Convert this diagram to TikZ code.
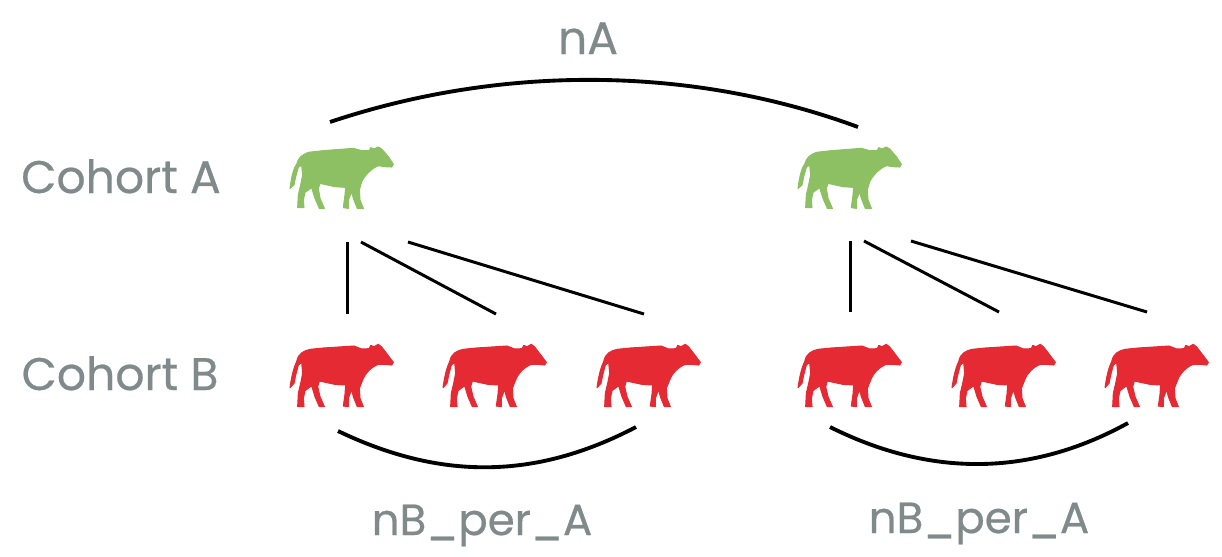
\documentclass[tikz,border=0pt]{standalone}
\usepackage{fontspec}
\setmainfont[FakeBold=0.5]{Poppins}
\definecolor{cowgreen}{HTML}{8CC063}
\definecolor{cowred}{HTML}{E62A33}
\definecolor{labelgray}{HTML}{808A8A}
\tikzset{
  x=0.02cm,y=-0.02cm,
  lbl/.style={text=labelgray,font=\fontsize{26}{30}\selectfont,inner sep=0pt,anchor=base},
  lblsmall/.style={lbl,font=\fontsize{24.8}{30}\selectfont},
  thick link/.style={draw=black,line width=2.2pt,line cap=butt},
  thinlink/.style={draw=black,line width=1.7pt},
  greencow/.pic={\filldraw[fill=cowgreen,draw=cowgreen,line width=0.6pt,line join=round,x=0.00667cm,y=-0.00667cm]
    (30,160) .. controls (34,130) and (40,100) .. (50,88)
    .. controls (55,68) and (65,60) .. (85,52)
    -- (130,47) -- (220,40) -- (245,47) -- (268,47) -- (272,38) -- (282,42) -- (295,36) -- (305,42)
    -- (325,65) -- (340,88) -- (335,96) -- (315,95) -- (295,92)
    .. controls (275,100) and (255,120) .. (245,140)
    -- (238,165) -- (240,195) -- (250,220) -- (232,220) -- (220,190) -- (215,170) -- (205,195) -- (205,220) -- (190,218)
    -- (195,180) -- (197,157) -- (165,155) -- (120,145) -- (115,160) -- (120,190) -- (133,220) -- (118,220) -- (105,190) -- (95,158)
    -- (75,172) -- (70,195) -- (72,218) -- (53,218) -- (55,180) -- (62,150) -- (68,120) -- (65,90)
    -- (55,97) -- (47,125) -- (42,150) -- cycle;},
  redcow/.pic={\filldraw[fill=cowred,draw=cowred,line width=0.6pt,line join=round,x=0.00667cm,y=-0.00667cm]
    (30,158) .. controls (34,130) and (40,100) .. (50,80)
    .. controls (55,55) and (70,48) .. (90,43)
    -- (130,39) -- (222,33) -- (245,42) -- (268,41) -- (272,31) -- (282,35) -- (295,28) -- (305,36)
    -- (325,62) -- (340,82) -- (335,90) -- (315,88) -- (295,88)
    .. controls (275,95) and (255,115) .. (248,135)
    -- (238,160) -- (240,190) -- (250,215) -- (232,215) -- (220,185) -- (215,163) -- (205,190) -- (205,215) -- (190,213)
    -- (195,178) -- (197,150) -- (165,148) -- (118,138) -- (113,155) -- (120,185) -- (133,215) -- (118,215) -- (105,185) -- (95,152)
    -- (75,167) -- (70,190) -- (72,215) -- (53,215) -- (55,175) -- (62,145) -- (68,115) -- (65,82)
    -- (55,90) -- (47,120) -- (42,145) -- cycle;},
}
\begin{document}
\begin{tikzpicture}
\useasboundingbox (0,0) rectangle (1222,556);
\pic at (280,135) {greencow};
\pic at (788,135) {greencow};
\foreach \cx in {280,433,587,788,942,1095} \pic at (\cx,335) {redcow};
\node[lbl] (cohA) at (121,193) {Cohort A};
\node[lbl] (cohB) at (120,390) {Cohort B};
\node[lbl] (nA) at (588,54) {nA};
\node[lblsmall] (nB1) at (482,535) {nB\_per\_A};
\node[lblsmall] (nB2) at (979,533) {nB\_per\_A};
\coordinate (t1) at (330,122); \coordinate (t2) at (858,127);
\coordinate (b1) at (338,431); \coordinate (b2) at (636,427);
\coordinate (c1) at (830,427); \coordinate (c2) at (1128,423);
\draw[thick link] (t1) .. controls (500,65) and (690,65) .. (t2);
\draw[thick link] (b1) .. controls (440,480) and (535,480) .. (b2);
\draw[thick link] (c1) .. controls (930,477) and (1030,477) .. (c2);
\coordinate (a0) at (347.5,242); \coordinate (a1) at (361,242); \coordinate (a2) at (408,242);
\coordinate (e0) at (347.5,314); \coordinate (e1) at (496,314); \coordinate (e2) at (644,314);
\coordinate (f0) at (850.5,241); \coordinate (f1) at (864,241); \coordinate (f2) at (911,241);
\coordinate (g0) at (850.5,312); \coordinate (g1) at (999,312); \coordinate (g2) at (1147,312);
\draw[thinlink] (a0) -- (e0); \draw[thinlink] (a1) -- (e1); \draw[thinlink] (a2) -- (e2);
\draw[thinlink] (f0) -- (g0); \draw[thinlink] (f1) -- (g1); \draw[thinlink] (f2) -- (g2);
\end{tikzpicture}
\end{document}
